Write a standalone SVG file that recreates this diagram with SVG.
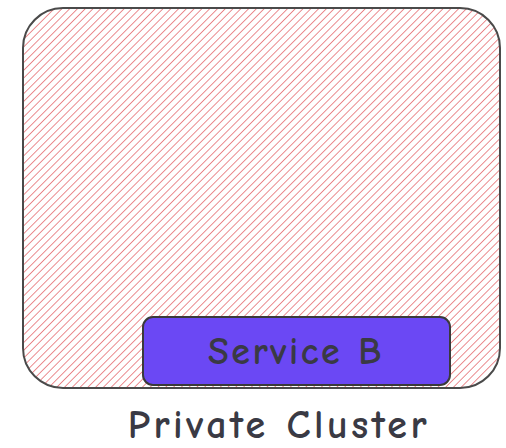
<svg xmlns="http://www.w3.org/2000/svg" width="506" height="448" viewBox="0 0 506 448">
<defs>
<pattern id="hatch" patternUnits="userSpaceOnUse" width="5.5" height="5.5" patternTransform="rotate(45)">
<line x1="0" y1="0" x2="0" y2="5.5" stroke="#e46a6f" stroke-width="1.8" stroke-opacity="0.85"/>
</pattern>
<style>
.lbl{font-family:"Comic Neue","Liberation Sans",sans-serif;fill:#3a3a44;text-anchor:middle;font-weight:bold}
</style>
</defs>
<rect width="506" height="448" fill="#ffffff"/>
<g id="private-cluster">
<rect x="23" y="8" width="477" height="380" rx="40" ry="40" fill="url(#hatch)" stroke="#4a4a4a" stroke-width="2"/>
<text class="lbl" x="279" y="438" font-size="40" letter-spacing="3.5">Private Cluster</text>
</g>
<g id="service-b">
<rect x="143" y="317" width="307" height="68" rx="10" ry="10" fill="#6b48f4" stroke="#3a3a3a" stroke-width="2"/>
<text class="lbl" x="296" y="364" font-size="38" letter-spacing="2.5" fill="#3c3555">Service B</text>
</g>
<g id="connectors"></g>
</svg>
